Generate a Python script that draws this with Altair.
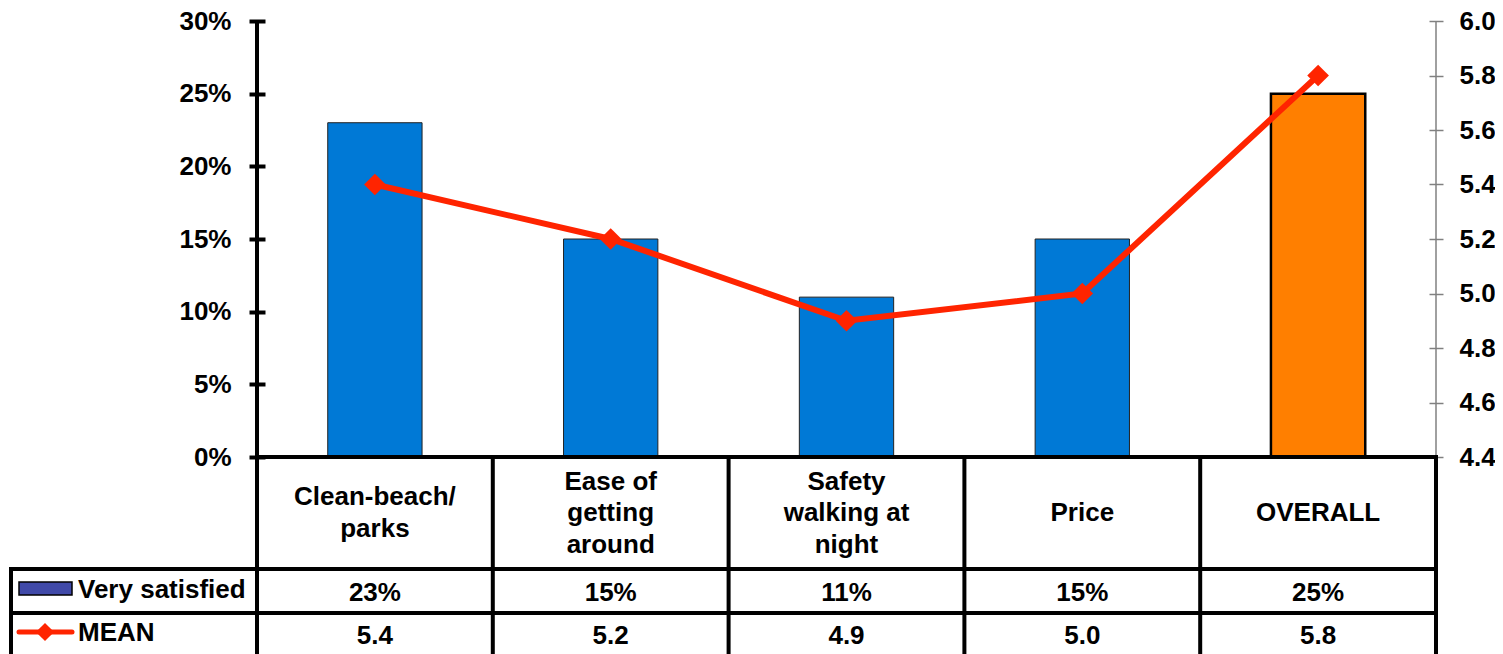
import altair as alt
import pandas as pd

# ---------------- data ----------------
categories = ["Clean-beach/\nparks", "Ease of\ngetting\naround", "Safety\nwalking at\nnight", "Price", "OVERALL"]
very_satisfied = [0.23, 0.15, 0.11, 0.15, 0.25]
mean_scores = [5.4, 5.2, 4.9, 5.0, 5.8]
series_names = ["Very satisfied", "MEAN"]
pct_ticks = [0, 0.05, 0.10, 0.15, 0.20, 0.25, 0.30]
mean_ticks = [4.4, 4.6, 4.8, 5.0, 5.2, 5.4, 5.6, 5.8, 6.0]

# ---------------- layout / style ----------------
W, H = 1179, 436
NCAT = len(categories)
PCT_DOM = [0, 0.30]
MEAN_DOM = [4.4, 6.0]
FONT = "Liberation Sans"
FS = 26
LH = 31.5
BLUE = "#0079D6"
ORANGE = "#FF7F00"
RED = "#FF2400"
LEGEND_BLUE = "#4049A8"


def ux(px):
    """pixel offset from the plot's left edge -> x data units"""
    return px / W * NCAT


def uy(px):
    """pixel offset below the zero line -> left-axis data units"""
    return -px / H * (PCT_DOM[1] - PCT_DOM[0])


def xs():
    return alt.Scale(domain=[0, NCAT], nice=False, zero=False, padding=0)


def ys():
    return alt.Scale(domain=PCT_DOM, nice=False, zero=False, padding=0)


def X(f):
    return alt.X(f, type="quantitative", scale=xs(), axis=None)


def Y(f):
    return alt.Y(f, type="quantitative", scale=ys(), axis=None)


def XD(v):
    return alt.X(datum=v, type="quantitative", scale=xs(), axis=None)


def YD(v):
    return alt.Y(datum=v, type="quantitative", scale=ys(), axis=None)


df = pd.DataFrame({
    "cat": categories,
    "pct": very_satisfied,
    "mean": mean_scores,
    "idx": list(range(NCAT)),
})
df["xc"] = df["idx"] + 0.5
df["x0"] = df["idx"] + 0.3
df["x1"] = df["idx"] + 0.7
nlines = df["cat"].str.count("\n") + 1
df["cat_y"] = [uy(56 - (n - 1) * LH / 2) for n in nlines]

base = alt.Chart(df)

bars = base.mark_bar(clip=False).encode(
    x=X("x0"),
    x2="x1",
    y=alt.Y(
        "pct:Q",
        scale=ys(),
        stack=None,
        axis=alt.Axis(
            orient="left", values=pct_ticks, format=".0%", domain=False,
            tickSize=16, tickWidth=4, tickColor="black", offset=-8,
            labelPadding=18, labelFont=FONT, labelFontSize=FS,
            labelFontWeight="bold", labelColor="black", grid=False, title=None,
        ),
    ),
    y2=alt.Y2(datum=0),
    color=alt.condition(alt.datum.cat == "OVERALL", alt.value(ORANGE), alt.value(BLUE)),
    stroke=alt.condition(alt.datum.cat == "OVERALL", alt.value("black"), alt.value("#222222")),
    strokeWidth=alt.condition(alt.datum.cat == "OVERALL", alt.value(2.5), alt.value(1)),
)

# axis domain lines
dom_df = pd.DataFrame({"x": [0, NCAT], "y": [PCT_DOM[0]] * 2, "y2": [PCT_DOM[1]] * 2,
                       "side": ["left", "right"]})
dom_rules = alt.Chart(dom_df).mark_rule(clip=False).encode(
    x=X("x"), y=Y("y"), y2="y2",
    color=alt.condition(alt.datum.side == "left", alt.value("black"), alt.value("#808080")),
    strokeWidth=alt.condition(alt.datum.side == "left", alt.value(4), alt.value(1.5)),
)

# table grid
LEG_LEFT = ux(-246)
ROW1 = uy(112)
ROW2 = uy(156)
BOTTOM = uy(230)
h_df = pd.DataFrame({
    "x": [0, LEG_LEFT, LEG_LEFT],
    "x2": [NCAT, NCAT, NCAT],
    "y": [0, ROW1, ROW2],
})
h_rules = alt.Chart(h_df).mark_rule(clip=False, color="black", strokeWidth=4, strokeCap="square").encode(
    x=X("x"), x2="x2", y=Y("y"))
v_df = pd.DataFrame({
    "x": [float(i) for i in range(NCAT + 1)] + [LEG_LEFT],
    "y": [0.0] * (NCAT + 1) + [ROW1],
    "y2": [BOTTOM] * (NCAT + 2),
})
v_rules = alt.Chart(v_df).mark_rule(clip=False, color="black", strokeWidth=4, strokeCap="square").encode(
    x=X("x"), y=Y("y"), y2="y2")

text_style = dict(font=FONT, fontSize=FS, fontWeight="bold", color="black", clip=False)

cat_text = base.mark_text(align="center", baseline="middle", lineBreak="\n", lineHeight=LH,
                          **text_style).encode(
    x=X("xc"), y=Y("cat_y"), text="cat:N")
pct_text = base.mark_text(align="center", baseline="middle", **text_style).encode(
    x=X("xc"), y=YD(uy(136)), text=alt.Text("pct:Q", format=".0%"))
mean_text = base.mark_text(align="center", baseline="middle", **text_style).encode(
    x=X("xc"), y=YD(uy(179)), text=alt.Text("mean:Q", format=".1f"))

# legend cells in the table
leg_df = pd.DataFrame({"name": series_names, "y": [uy(133), uy(176)]})
leg_text = alt.Chart(leg_df).mark_text(align="left", baseline="middle", **text_style).encode(
    x=XD(ux(-179)), y=Y("y"), text="name:N")

one = pd.DataFrame({"name": [series_names[0]]})
leg_rect = alt.Chart(one).mark_rect(clip=False, color=LEGEND_BLUE, stroke="black",
                                    strokeWidth=1.5).encode(
    x=XD(ux(-238)), x2=alt.X2(datum=ux(-185)),
    y=YD(uy(125)), y2=alt.Y2(datum=uy(138)))

leg_line = alt.Chart(one).mark_rule(clip=False, color=RED, strokeWidth=5, strokeCap="round").encode(
    x=XD(ux(-238)), x2=alt.X2(datum=ux(-185)), y=YD(uy(175)))
leg_pt = alt.Chart(one).mark_point(clip=False, shape="diamond", filled=True, color=RED,
                                   opacity=1, size=330).encode(
    x=XD(ux(-212)), y=YD(uy(175)))

line = base.mark_line(
    color=RED, strokeWidth=6, clip=False,
    point=alt.OverlayMarkDef(shape="diamond", size=470, filled=True, color=RED, opacity=1),
).encode(
    x=X("xc"),
    y=alt.Y(
        "mean:Q", scale=alt.Scale(domain=MEAN_DOM, nice=False, zero=False, padding=0),
        axis=alt.Axis(
            orient="right", values=mean_ticks, format=".1f", domain=False,
            tickSize=14, tickWidth=1.5, tickColor="#808080", offset=-7,
            labelPadding=16, labelFont=FONT, labelFontSize=FS,
            labelFontWeight="bold", labelColor="black", grid=False, title=None,
        ),
    ),
)

chart = alt.layer(
    bars, dom_rules, h_rules, v_rules, cat_text, pct_text, mean_text,
    leg_text, leg_rect, leg_line, leg_pt, line,
).resolve_scale(y="independent").properties(
    width=W, height=H,
    autosize=alt.AutoSizeParams(type="none"),
    padding={"left": 249, "top": 13, "right": 59, "bottom": 197},
    background="white",
).configure_view(strokeWidth=0)

chart.save("out.html", embed_options={"renderer": "svg", "actions": False})
